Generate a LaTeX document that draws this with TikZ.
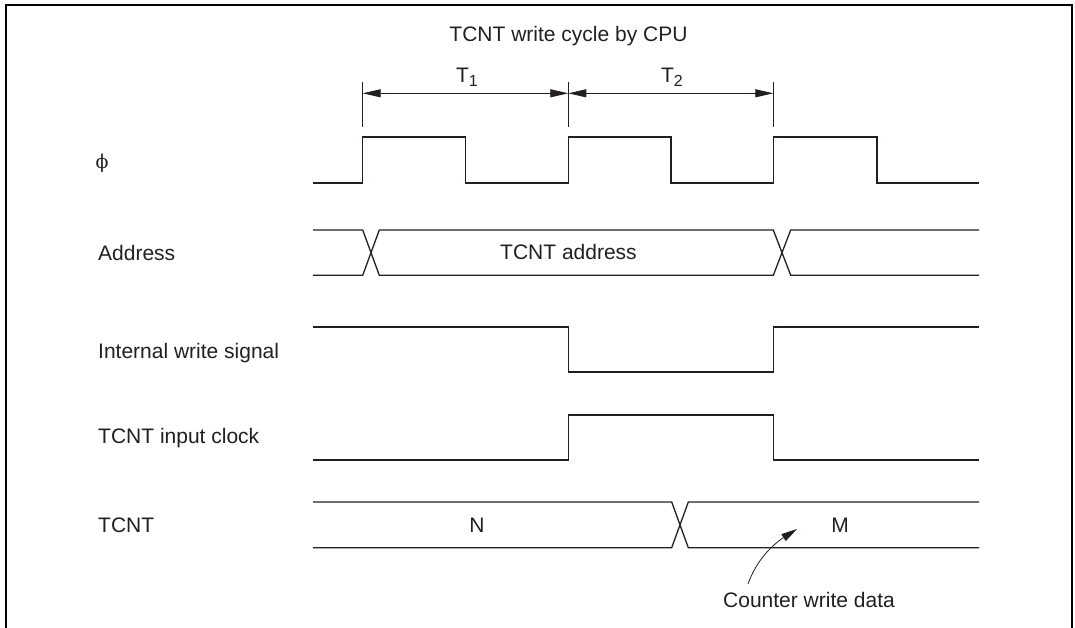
\documentclass[tikz,border=0pt]{standalone}
\usepackage{fontspec}
\setmainfont{Liberation Sans}
\newfontfamily\phifont{DejaVu Serif}
\usetikzlibrary{arrows.meta}
\definecolor{ink}{HTML}{231F20}
\begin{document}
\begin{tikzpicture}[x=1pt,y=-1pt,
  sig/.style={draw=ink, line width=1.3pt, line join=miter},
  lbl/.style={font=\fontsize{21}{25}\selectfont, inner sep=0pt, text=ink},
  dim/.style={draw=ink, line width=0.8pt, {Triangle[length=18pt,width=8pt]}-{Triangle[length=18pt,width=8pt]}},
  tickline/.style={draw=ink, line width=0.8pt},
  frame/.style={draw=black, line width=2.2pt}]
\useasboundingbox (0,0) rectangle (1075,628);
% frame
\draw[frame] (6,628) -- (6,5) -- (1072,5) -- (1072,628);

% title and period labels
\node[lbl, anchor=base] (title) at (568.5,41.7) {TCNT write cycle by CPU};
\node[lbl, anchor=base] (t1) at (467,83) {T\raisebox{-3.5pt}{\fontsize{16}{18}\selectfont 1}};
\node[lbl, anchor=base] (t2) at (672,83) {T\raisebox{-3.5pt}{\fontsize{16}{18}\selectfont 2}};

% ticks
\coordinate (a0) at (362.7,82); \coordinate (b0) at (362.7,127);
\coordinate (a1) at (568.3,82); \coordinate (b1) at (568.3,127);
\coordinate (a2) at (773.3,82); \coordinate (b2) at (773.3,127);
\draw[tickline] (a0) -- (b0);
\draw[tickline] (a1) -- (b1);
\draw[tickline] (a2) -- (b2);
\coordinate (d0) at (362.7,93.3);
\coordinate (d1) at (568.3,93.3);
\coordinate (d2) at (773.3,93.3);
\draw[dim] (d0) -- (d1);
\draw[dim] (d1) -- (d2);

% signal names
\node[lbl, font=\phifont\fontsize{19}{22}\selectfont, anchor=center] (phi) at (102,163.5) {ϕ};
\node[lbl, anchor=base west] (addr) at (98,260) {Address};
\node[lbl, anchor=base west] (iws) at (98,358) {Internal write signal};
\node[lbl, anchor=base west] (tic) at (98,443) {TCNT input clock};
\node[lbl, anchor=base west] (tcnt) at (98,532) {TCNT};

% phi clock
\draw[sig] (313,183) -- (362.7,183) -- (362.7,137) -- (465.3,137) -- (465.3,183)
  -- (568.3,183) -- (568.3,137) -- (671,137) -- (671,183) -- (773.3,183)
  -- (773.3,137) -- (877,137) -- (877,183) -- (979,183);

% address bus
\draw[sig] (313,230) -- (362.7,230) -- (379.3,275.3) -- (773.3,275.3) -- (790.7,230) -- (979,230);
\draw[sig] (313,275.3) -- (362.7,275.3) -- (379.3,230) -- (773.3,230) -- (790.7,275.3) -- (979,275.3);
\node[lbl, anchor=base] (addrval) at (568.5,259) {TCNT address};

% internal write signal
\draw[sig] (313,327) -- (568.3,327) -- (568.3,372) -- (773.3,372) -- (773.3,327) -- (979,327);

% TCNT input clock
\draw[sig] (313,460) -- (568.3,460) -- (568.3,415) -- (773.3,415) -- (773.3,460) -- (979,460);

% TCNT value
\draw[sig] (313,502) -- (671.7,502) -- (688.3,547.7) -- (979,547.7);
\draw[sig] (313,547.7) -- (671.7,547.7) -- (688.3,502) -- (979,502);
\node[lbl, anchor=base] (nval) at (477,532) {N};
\node[lbl, anchor=base] (mval) at (840,532) {M};

% counter write data annotation
\node[lbl, anchor=base] (cwd) at (809,607) {Counter write data};
\coordinate (cwdtail) at (748,584);
\coordinate (cwdtip) at (797,529);
\draw[draw=ink, line width=0.8pt, -{Triangle[length=16pt,width=8pt]}]
  (cwdtail) .. controls (756,561) and (772,545) .. (cwdtip);
\end{tikzpicture}
\end{document}
